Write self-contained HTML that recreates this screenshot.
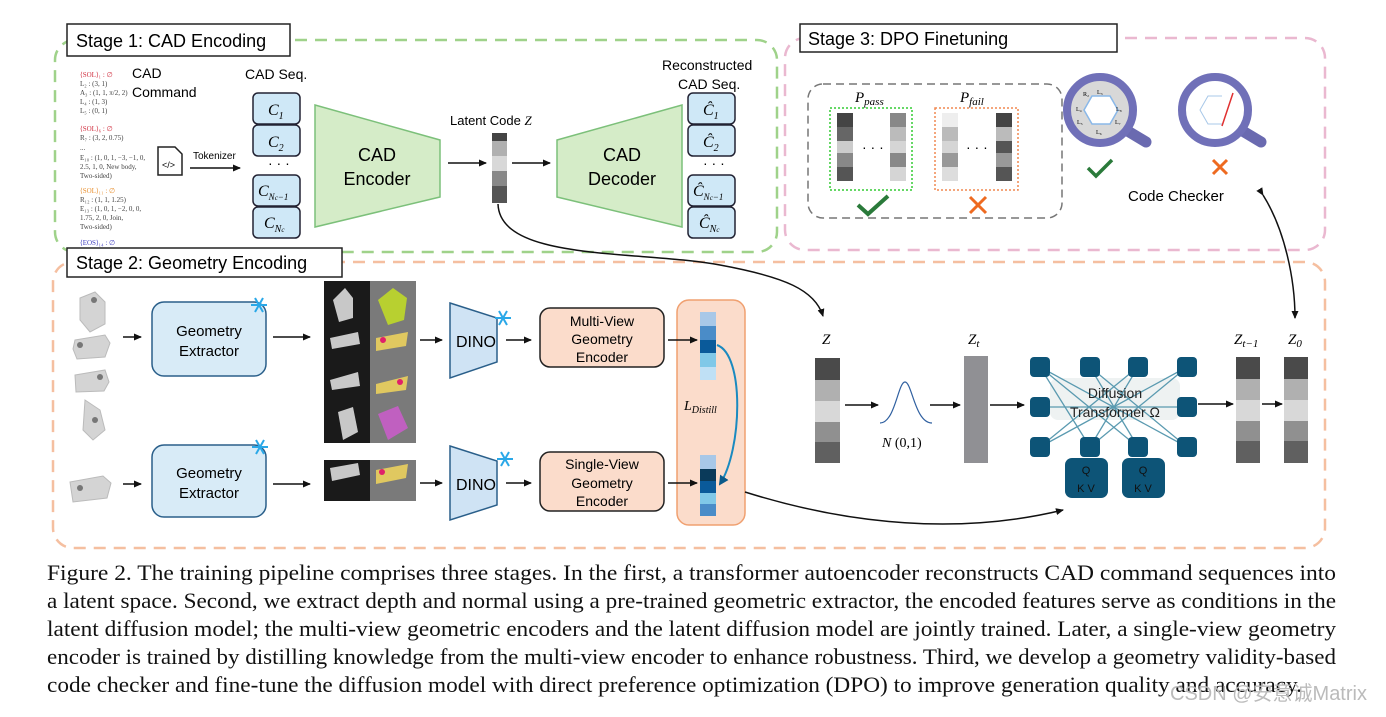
<!DOCTYPE html>
<html><head><meta charset="utf-8"><style>
body{margin:0;background:#fff;}
svg{display:block;font-family:"Liberation Sans",sans-serif;}
.s{font-family:"Liberation Serif",serif;}
</style></head><body>
<svg width="1386" height="717" viewBox="0 0 1386 717" xmlns="http://www.w3.org/2000/svg">
<defs>
<marker id="ar" markerWidth="8" markerHeight="8" refX="7" refY="4" orient="auto" markerUnits="userSpaceOnUse"><path d="M0,0.5 L8,4 L0,7.5z" fill="#111"/></marker>
<marker id="arb" markerWidth="10" markerHeight="10" refX="8" refY="5" orient="auto" markerUnits="userSpaceOnUse"><path d="M0,0 L10,5 L0,10z" fill="#0a5a8a"/></marker>
<g id="snow" stroke="#2aa8e8" stroke-width="2"><line x1="-8" y1="0" x2="8" y2="0"/><line x1="-4" y1="-7" x2="4" y2="7"/><line x1="-4" y1="7" x2="4" y2="-7"/></g>
<g id="nd"><rect width="20" height="20" rx="4" fill="#0d5477"/></g>
</defs>

<rect x="55" y="40" width="722" height="212" rx="20" fill="none" stroke="#9fd28a" stroke-width="2.5" stroke-dasharray="12,8"/>
<rect x="785" y="38" width="540" height="212" rx="20" fill="none" stroke="#eab8d0" stroke-width="2.5" stroke-dasharray="12,8"/>
<rect x="53" y="262" width="1272" height="286" rx="20" fill="none" stroke="#f5bfa0" stroke-width="2.5" stroke-dasharray="12,8"/>
<rect x="67" y="24" width="223" height="32" fill="#fff" stroke="#222" stroke-width="1.5"/>
<text x="76" y="47" font-size="18">Stage 1: CAD Encoding</text>
<rect x="800" y="24" width="317" height="28" fill="#fff" stroke="#222" stroke-width="1.5"/>
<text x="808" y="45" font-size="18">Stage 3: DPO Finetuning</text>
<rect x="67" y="248" width="275" height="29" fill="#fff" stroke="#222" stroke-width="1.5"/>
<text x="76" y="269" font-size="18">Stage 2: Geometry Encoding</text>

<g class="s" font-size="7" fill="#444">
<text x="80" y="77" fill="#d03040">⟨SOL⟩₁ : ∅</text>
<text x="80" y="86">L₂ : (3, 1)</text><text x="80" y="95">A₃ : (1, 1, π/2, 2)</text>
<text x="80" y="104">L₄ : (1, 3)</text><text x="80" y="113">L₅ : (0, 1)</text>
<text x="80" y="131" fill="#d03040">⟨SOL⟩₆ : ∅</text>
<text x="80" y="140">R₇ : (3, 2, 0.75)</text><text x="80" y="150">...</text>
<text x="80" y="160">E₁₀ : (1, 0, 1, −3, −1, 0,</text><text x="80" y="169">2.5, 1, 0, New body,</text><text x="80" y="178">Two-sided)</text>
<text x="80" y="193" fill="#e89030">⟨SOL⟩₁₁ : ∅</text>
<text x="80" y="202">R₁₂ : (1, 1, 1.25)</text><text x="80" y="211">E₁₃ : (1, 0, 1, −2, 0, 0,</text>
<text x="80" y="220">1.75, 2, 0, Join,</text><text x="80" y="229">Two-sided)</text>
<text x="80" y="245" fill="#4040c0">⟨EOS⟩₁₄ : ∅</text>
</g>
<text x="132" y="78" font-size="14">CAD</text>
<text x="132" y="97" font-size="14">Command</text>
<path d="M158,147 h17 l7,7 v21 h-24z" fill="#fff" stroke="#222" stroke-width="1.5"/>
<text x="162" y="168" font-size="9">&lt;/&gt;</text>
<text x="193" y="159" font-size="10">Tokenizer</text>
<line x1="190" y1="168" x2="240" y2="168" stroke="#111" stroke-width="1.5" marker-end="url(#ar)"/>

<text x="245" y="79" font-size="14">CAD Seq.</text>
<g fill="#cfe8f7" stroke="#223" stroke-width="1.5">
<rect x="253" y="93" width="47" height="31" rx="5"/><rect x="253" y="125" width="47" height="31" rx="5"/>
<rect x="253" y="175" width="47" height="31" rx="5"/><rect x="253" y="207" width="47" height="31" rx="5"/>
<rect x="688" y="93" width="47" height="31" rx="5"/><rect x="688" y="125" width="47" height="31" rx="5"/>
<rect x="688" y="175" width="47" height="31" rx="5"/><rect x="688" y="207" width="47" height="31" rx="5"/>
</g>
<g class="s" font-size="16" font-style="italic">
<text x="268" y="115">C<tspan font-size="10" dy="4">1</tspan></text>
<text x="268" y="147">C<tspan font-size="10" dy="4">2</tspan></text>
<text x="258" y="196">C<tspan font-size="9" dy="4">N<tspan font-size="7">c</tspan>−1</tspan></text>
<text x="264" y="228">C<tspan font-size="10" dy="4">N<tspan font-size="7">c</tspan></tspan></text>
<text x="703" y="115">Ĉ<tspan font-size="10" dy="4">1</tspan></text>
<text x="703" y="147">Ĉ<tspan font-size="10" dy="4">2</tspan></text>
<text x="693" y="196">Ĉ<tspan font-size="9" dy="4">N<tspan font-size="7">c</tspan>−1</tspan></text>
<text x="699" y="228">Ĉ<tspan font-size="10" dy="4">N<tspan font-size="7">c</tspan></tspan></text>
</g>
<text x="268" y="168" font-size="14">· · ·</text>
<text x="703" y="168" font-size="14">· · ·</text>

<polygon points="315,105 440,140 440,197 315,227" fill="#d5ecc8" stroke="#7cc07a" stroke-width="1.5"/>
<text x="377" y="161" font-size="18" text-anchor="middle">CAD</text>
<text x="377" y="185" font-size="18" text-anchor="middle">Encoder</text>
<polygon points="557,140 682,105 682,227 557,197" fill="#d5ecc8" stroke="#7cc07a" stroke-width="1.5"/>
<text x="622" y="161" font-size="18" text-anchor="middle">CAD</text>
<text x="622" y="185" font-size="18" text-anchor="middle">Decoder</text>
<text x="450" y="125" font-size="13">Latent Code <tspan class="s" font-style="italic">Z</tspan></text>
<line x1="448" y1="163" x2="486" y2="163" stroke="#111" stroke-width="1.5" marker-end="url(#ar)"/>
<rect x="492" y="133" width="15" height="8" fill="#444"/><rect x="492" y="141" width="15" height="15" fill="#b0b0b0"/>
<rect x="492" y="156" width="15" height="15" fill="#d8d8d8"/><rect x="492" y="171" width="15" height="15" fill="#888"/><rect x="492" y="186" width="15" height="17" fill="#555"/>
<line x1="512" y1="163" x2="550" y2="163" stroke="#111" stroke-width="1.5" marker-end="url(#ar)"/>
<text x="662" y="70" font-size="14">Reconstructed</text>
<text x="678" y="89" font-size="14">CAD Seq.</text>

<path d="M498,204 C500,262 640,250 720,265 C785,277 815,290 823,316" fill="none" stroke="#111" stroke-width="1.5" marker-end="url(#ar)"/>

<rect x="808" y="84" width="254" height="134" rx="15" fill="none" stroke="#777" stroke-width="1.5" stroke-dasharray="8,5"/>
<text class="s" x="855" y="102" font-size="15" font-style="italic">P<tspan font-size="11" dy="3">pass</tspan></text>
<text class="s" x="960" y="102" font-size="15" font-style="italic">P<tspan font-size="11" dy="3">fail</tspan></text>
<rect x="830" y="108" width="82" height="82" fill="none" stroke="#3c3" stroke-width="1.5" stroke-dasharray="2,2"/>
<rect x="935" y="108" width="83" height="82" fill="none" stroke="#f08850" stroke-width="1.5" stroke-dasharray="2,2"/>
<g>
<rect x="837" y="113" width="16" height="14" fill="#444"/><rect x="837" y="127" width="16" height="14" fill="#666"/><rect x="837" y="141" width="16" height="12" fill="#ccc"/><rect x="837" y="153" width="16" height="14" fill="#888"/><rect x="837" y="167" width="16" height="14" fill="#555"/>
<rect x="890" y="113" width="16" height="14" fill="#888"/><rect x="890" y="127" width="16" height="14" fill="#bbb"/><rect x="890" y="141" width="16" height="12" fill="#d5d5d5"/><rect x="890" y="153" width="16" height="14" fill="#888"/><rect x="890" y="167" width="16" height="14" fill="#d5d5d5"/>
<rect x="942" y="113" width="16" height="14" fill="#eee"/><rect x="942" y="127" width="16" height="14" fill="#bbb"/><rect x="942" y="141" width="16" height="12" fill="#d5d5d5"/><rect x="942" y="153" width="16" height="14" fill="#999"/><rect x="942" y="167" width="16" height="14" fill="#ddd"/>
<rect x="996" y="113" width="16" height="14" fill="#444"/><rect x="996" y="127" width="16" height="14" fill="#bbb"/><rect x="996" y="141" width="16" height="12" fill="#555"/><rect x="996" y="153" width="16" height="14" fill="#999"/><rect x="996" y="167" width="16" height="14" fill="#555"/>
</g>
<text x="862" y="152" font-size="14">· · ·</text><text x="966" y="152" font-size="14">· · ·</text>
<path d="M858,205 l10,9 l20,-18" fill="none" stroke="#2a7a3a" stroke-width="4"/>
<path d="M970,197 l16,16 M986,197 l-16,16" stroke="#ee6a20" stroke-width="3"/>

<g>
<line x1="1126" y1="130" x2="1146" y2="142" stroke="#6a6ab0" stroke-width="11" stroke-linecap="round"/>
<circle cx="1100" cy="110" r="33" fill="#d8d8d8" stroke="#7070b8" stroke-width="8"/>
<polygon points="1092,96 1110,96 1118,110 1110,124 1092,124 1084,110" fill="#fff" stroke="#8ab8e8" stroke-width="1.5"/>
<g font-size="6" class="s"><text x="1083" y="96">R₂</text><text x="1097" y="94">L₃</text><text x="1076" y="111">L₄</text><text x="1116" y="111">L₈</text><text x="1077" y="124">L₅</text><text x="1115" y="124">L₇</text><text x="1096" y="134">L₆</text></g>
<path d="M1088,168 l8,8 l16,-16" fill="none" stroke="#2a7a3a" stroke-width="3.5"/>
<line x1="1241" y1="130" x2="1261" y2="142" stroke="#6a6ab0" stroke-width="11" stroke-linecap="round"/>
<circle cx="1215" cy="110" r="33" fill="#fff" stroke="#7070b8" stroke-width="8"/>
<polyline points="1222,96 1208,96 1200,110 1208,124 1222,124" fill="none" stroke="#a8c8e8" stroke-width="1"/>
<line x1="1233" y1="93" x2="1222" y2="126" stroke="#e03030" stroke-width="1.5"/>
<path d="M1213,160 l14,14 M1227,160 l-14,14" stroke="#ee6a20" stroke-width="3"/>
</g>
<text x="1128" y="201" font-size="15">Code Checker</text>
<path d="M1263,195 C1285,230 1295,280 1295,318" fill="none" stroke="#111" stroke-width="1.5" marker-end="url(#ar)" marker-start="url(#ar)"/>

<g fill="#d4d4d4" stroke="#bbb">
<path d="M80,298 l15,-6 l10,10 l0,22 l-15,8 l-10,-12z"/>
<path d="M75,340 l30,-5 l5,8 l-5,14 l-28,2 l-4,-10z"/>
<path d="M75,375 l30,-5 l4,12 l-5,9 l-28,1z"/>
<path d="M85,400 l15,10 l5,20 l-12,10 l-10,-10z"/>
<path d="M70,482 l33,-6 l8,7 l-4,15 l-34,4z"/>
</g>
<g fill="#777"><circle cx="94" cy="300" r="3"/><circle cx="80" cy="345" r="3"/><circle cx="100" cy="377" r="3"/><circle cx="95" cy="420" r="3"/><circle cx="80" cy="488" r="3"/></g>
<line x1="123" y1="337" x2="141" y2="337" stroke="#111" stroke-width="1.5" marker-end="url(#ar)"/>
<line x1="123" y1="484" x2="141" y2="484" stroke="#111" stroke-width="1.5" marker-end="url(#ar)"/>
<rect x="152" y="302" width="114" height="74" rx="12" fill="#d8ebf7" stroke="#2a5f8a" stroke-width="1.5"/>
<rect x="152" y="445" width="114" height="72" rx="12" fill="#d8ebf7" stroke="#2a5f8a" stroke-width="1.5"/>
<text x="209" y="336" font-size="15" text-anchor="middle">Geometry</text><text x="209" y="356" font-size="15" text-anchor="middle">Extractor</text>
<text x="209" y="478" font-size="15" text-anchor="middle">Geometry</text><text x="209" y="498" font-size="15" text-anchor="middle">Extractor</text>
<use href="#snow" x="259" y="305"/><use href="#snow" x="260" y="447"/>
<line x1="273" y1="337" x2="310" y2="337" stroke="#111" stroke-width="1.5" marker-end="url(#ar)"/>
<line x1="273" y1="484" x2="310" y2="484" stroke="#111" stroke-width="1.5" marker-end="url(#ar)"/>
<rect x="324" y="281" width="46" height="162" fill="#1a1a1a"/><rect x="370" y="281" width="46" height="162" fill="#7a7a7a"/>
<rect x="324" y="460" width="46" height="41" fill="#1a1a1a"/><rect x="370" y="460" width="46" height="41" fill="#7a7a7a"/>
<g fill="#c8c8c8"><path d="M333,300 l12,-12 l8,10 l0,20 l-14,4z"/><path d="M330,338 l28,-6 l2,12 l-28,5z"/><path d="M330,380 l28,-8 l2,14 l-28,4z"/><path d="M338,412 l15,-5 l5,25 l-15,8z"/><path d="M330,468 l28,-5 l2,12 l-28,6z"/></g>
<g><path d="M378,300 l15,-12 l14,10 l-3,22 l-16,5z" fill="#b8d030"/><path d="M376,338 l32,-6 l-2,14 l-30,5z" fill="#e0c860"/><path d="M376,384 l32,-8 l-2,14 l-30,4z" fill="#e0c860"/><path d="M378,414 l20,-8 l10,22 l-20,12z" fill="#c060c0"/><path d="M376,470 l32,-6 l-2,14 l-30,6z" fill="#e0c860"/>
<g fill="#e0206a"><circle cx="383" cy="340" r="3"/><circle cx="400" cy="382" r="3"/><circle cx="382" cy="472" r="3"/></g></g>
<line x1="420" y1="340" x2="442" y2="340" stroke="#111" stroke-width="1.5" marker-end="url(#ar)"/>
<line x1="420" y1="483" x2="442" y2="483" stroke="#111" stroke-width="1.5" marker-end="url(#ar)"/>
<polygon points="450,303 497,318 497,362 450,378" fill="#cfe3f4" stroke="#2a5f8a" stroke-width="1.5"/>
<polygon points="450,446 497,461 497,505 450,520" fill="#cfe3f4" stroke="#2a5f8a" stroke-width="1.5"/>
<text x="456" y="347" font-size="16">DINO</text><text x="456" y="490" font-size="16">DINO</text>
<use href="#snow" x="503" y="318"/><use href="#snow" x="505" y="459"/>
<line x1="506" y1="340" x2="531" y2="340" stroke="#111" stroke-width="1.5" marker-end="url(#ar)"/>
<line x1="506" y1="483" x2="531" y2="483" stroke="#111" stroke-width="1.5" marker-end="url(#ar)"/>
<rect x="540" y="308" width="124" height="59" rx="10" fill="#fbdccb" stroke="#222" stroke-width="1.5"/>
<rect x="540" y="452" width="124" height="59" rx="10" fill="#fbdccb" stroke="#222" stroke-width="1.5"/>
<g font-size="14" text-anchor="middle"><text x="602" y="326">Multi-View</text><text x="602" y="344">Geometry</text><text x="602" y="362">Encoder</text>
<text x="602" y="469">Single-View</text><text x="602" y="488">Geometry</text><text x="602" y="506">Encoder</text></g>
<rect x="677" y="300" width="68" height="225" rx="12" fill="#fbdccb" stroke="#f0a070" stroke-width="1.5"/>
<line x1="668" y1="340" x2="697" y2="340" stroke="#111" stroke-width="1.5" marker-end="url(#ar)"/>
<line x1="668" y1="483" x2="697" y2="483" stroke="#111" stroke-width="1.5" marker-end="url(#ar)"/>
<rect x="700" y="312" width="16" height="14" fill="#a8c8e8"/><rect x="700" y="326" width="16" height="14" fill="#4a8cc8"/><rect x="700" y="340" width="16" height="13" fill="#0a5a9a"/><rect x="700" y="353" width="16" height="14" fill="#80c8e8"/><rect x="700" y="367" width="16" height="13" fill="#bfe0f5"/>
<rect x="700" y="455" width="16" height="14" fill="#a8c8e8"/><rect x="700" y="469" width="16" height="12" fill="#0a3a5a"/><rect x="700" y="481" width="16" height="12" fill="#0a5a9a"/><rect x="700" y="493" width="16" height="11" fill="#80c8e8"/><rect x="700" y="504" width="16" height="12" fill="#4a8cc8"/>
<text class="s" x="684" y="410" font-size="14" font-style="italic">L<tspan font-size="10" dy="3">Distill</tspan></text>
<path d="M717,345 C745,355 742,450 720,484" fill="none" stroke="#1a8ac0" stroke-width="2" marker-end="url(#arb)"/>
<path d="M745,492 C850,525 960,535 1063,510" fill="none" stroke="#111" stroke-width="1.5" marker-end="url(#ar)"/>

<g class="s" font-style="italic" font-size="15">
<text x="822" y="344">Z</text>
<text x="968" y="344">Z<tspan font-size="11" dy="3">t</tspan></text>
<text x="1234" y="344">Z<tspan font-size="11" dy="3">t−1</tspan></text>
<text x="1288" y="344">Z<tspan font-size="11" dy="3">0</tspan></text>
</g>
<g><rect x="815" y="358" width="25" height="22" fill="#4a4a4a"/><rect x="815" y="380" width="25" height="21" fill="#b0b0b0"/><rect x="815" y="401" width="25" height="21" fill="#d8d8d8"/><rect x="815" y="422" width="25" height="20" fill="#909090"/><rect x="815" y="442" width="25" height="21" fill="#606060"/></g>
<rect x="964" y="356" width="24" height="107" fill="#909094"/>
<g><rect x="1236" y="357" width="24" height="22" fill="#4a4a4a"/><rect x="1236" y="379" width="24" height="21" fill="#b0b0b0"/><rect x="1236" y="400" width="24" height="21" fill="#d8d8d8"/><rect x="1236" y="421" width="24" height="20" fill="#909090"/><rect x="1236" y="441" width="24" height="22" fill="#606060"/></g>
<g><rect x="1284" y="357" width="24" height="22" fill="#4a4a4a"/><rect x="1284" y="379" width="24" height="21" fill="#b0b0b0"/><rect x="1284" y="400" width="24" height="21" fill="#d8d8d8"/><rect x="1284" y="421" width="24" height="20" fill="#909090"/><rect x="1284" y="441" width="24" height="22" fill="#606060"/></g>
<line x1="845" y1="405" x2="878" y2="405" stroke="#111" stroke-width="1.5" marker-end="url(#ar)"/>
<path d="M880,423 C895,423 898,382 905,382 C912,382 915,423 932,423" fill="none" stroke="#3060a0" stroke-width="1.2"/>
<text class="s" x="882" y="447" font-size="14"><tspan font-style="italic">N</tspan> (0,1)</text>
<line x1="930" y1="405" x2="960" y2="405" stroke="#111" stroke-width="1.5" marker-end="url(#ar)"/>
<line x1="990" y1="405" x2="1024" y2="405" stroke="#111" stroke-width="1.5" marker-end="url(#ar)"/>
<rect x="1050" y="378" width="130" height="42" rx="8" fill="#eef2f2"/>
<g stroke="#5a9ab0" stroke-width="1.3">
<line x1="1040" y1="367" x2="1187" y2="447"/><line x1="1040" y1="447" x2="1187" y2="367"/>
<line x1="1040" y1="367" x2="1090" y2="447"/><line x1="1040" y1="367" x2="1138" y2="447"/>
<line x1="1090" y1="367" x2="1138" y2="447"/><line x1="1138" y1="367" x2="1090" y2="447"/>
<line x1="1090" y1="367" x2="1187" y2="447"/><line x1="1138" y1="367" x2="1040" y2="447"/>
<line x1="1187" y1="367" x2="1090" y2="447"/><line x1="1040" y1="407" x2="1187" y2="407"/>
</g>
<use href="#nd" x="1030" y="357"/><use href="#nd" x="1080" y="357"/><use href="#nd" x="1128" y="357"/><use href="#nd" x="1177" y="357"/>
<use href="#nd" x="1030" y="397"/><use href="#nd" x="1177" y="397"/>
<use href="#nd" x="1030" y="437"/><use href="#nd" x="1080" y="437"/><use href="#nd" x="1128" y="437"/><use href="#nd" x="1177" y="437"/>
<text x="1115" y="398" font-size="14" text-anchor="middle" fill="#222">Diffusion</text>
<text x="1115" y="417" font-size="14" text-anchor="middle" fill="#222">Transformer Ω</text>
<rect x="1065" y="458" width="43" height="40" rx="7" fill="#0d5477"/><rect x="1122" y="458" width="43" height="40" rx="7" fill="#0d5477"/>
<g font-size="11" text-anchor="middle" fill="#111"><text x="1086" y="474">Q</text><text x="1086" y="492">K V</text><text x="1143" y="474">Q</text><text x="1143" y="492">K V</text></g>
<line x1="1198" y1="404" x2="1233" y2="404" stroke="#111" stroke-width="1.5" marker-end="url(#ar)"/>
<line x1="1262" y1="404" x2="1282" y2="404" stroke="#111" stroke-width="1.5" marker-end="url(#ar)"/>

<g class="s" font-size="22.5" fill="#111">
<text x="47" y="580" textLength="1289" lengthAdjust="spacingAndGlyphs">Figure 2. The training pipeline comprises three stages. In the first, a transformer autoencoder reconstructs CAD command sequences into</text>
<text x="47" y="608" textLength="1289" lengthAdjust="spacingAndGlyphs">a latent space. Second, we extract depth and normal using a pre-trained geometric extractor, the encoded features serve as conditions in the</text>
<text x="47" y="636" textLength="1289" lengthAdjust="spacingAndGlyphs">latent diffusion model; the multi-view geometric encoders and the latent diffusion model are jointly trained. Later, a single-view geometry</text>
<text x="47" y="664" textLength="1289" lengthAdjust="spacingAndGlyphs">encoder is trained by distilling knowledge from the multi-view encoder to enhance robustness. Third, we develop a geometry validity-based</text>
<text x="47" y="692" textLength="1255" lengthAdjust="spacingAndGlyphs">code checker and fine-tune the diffusion model with direct preference optimization (DPO) to improve generation quality and accuracy.</text>
</g>
<text x="1170" y="700" font-size="20" fill="#bbb" font-family="'Liberation Sans','Noto Sans CJK SC',sans-serif">CSDN @安意诚Matrix</text>
</svg>
</body></html>
